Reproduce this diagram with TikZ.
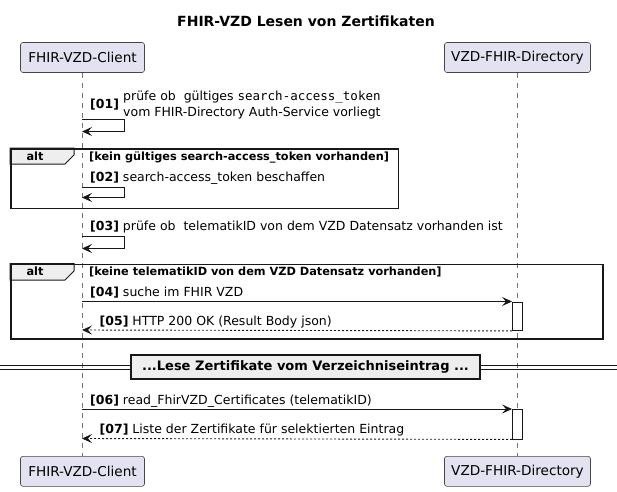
\documentclass[tikz,border=0pt]{standalone}
\usepackage{fontspec}
\setmainfont{DejaVu Sans}
\newfontfamily\monofont{DejaVu Sans Mono}
\usetikzlibrary{arrows.meta}
\definecolor{partfill}{HTML}{E2E2F0}
\definecolor{ink}{HTML}{181818}
\definecolor{tabfill}{HTML}{EEEEEE}
\newcommand{\fsz}[1]{\fontsize{#1}{#1}\selectfont}
\tikzset{
  part/.style={draw=ink!80, fill=partfill, line width=0.6pt, rounded corners=2.5pt, minimum height=30pt, inner sep=0pt, font=\fsz{13.6}},
  life/.style={draw=ink!60, line width=0.6pt, dash pattern=on 5pt off 5pt},
  lbl/.style={anchor=base west, inner sep=0pt, font=\fsz{12.5}},
  msgline/.style={draw=ink, line width=0.9pt, -{Stealth[length=10pt,width=9pt,inset=4pt]}},
  retline/.style={msgline, dash pattern=on 2pt off 2pt},
  altframe/.style={draw=ink, line width=1.5pt, inner sep=0pt, anchor=north west},
  alttab/.style={draw=ink, fill=tabfill, line width=1pt},
  condtxt/.style={anchor=base west, inner sep=0pt, font=\bfseries\fsz{11.3}},
  alttxt/.style={inner sep=0pt, font=\bfseries\fsz{11.3}},
  actbox/.style={draw=ink, fill=white, line width=0.9pt, minimum width=10pt, inner sep=0pt, anchor=north},
  divline/.style={draw=ink, line width=0.9pt},
  divbox/.style={draw=ink, fill=tabfill, line width=1.5pt, inner sep=0pt, font=\bfseries\fsz{13}}
}
\begin{document}
\begin{tikzpicture}[x=1pt,y=-1pt]
\useasboundingbox (0,0) rectangle (617,491);

% title
\node[font=\bfseries\fsz{14}, inner sep=0pt] (title) at (306,21) {FHIR-VZD Lesen von Zertifikaten};

% participants
\node[part, minimum width=124pt] (ct) at (82.5,57.5) {FHIR-VZD-Client};
\node[part, minimum width=146pt] (dt) at (517.5,57.5) {VZD-FHIR-Directory};
\node[part, minimum width=124pt] (cb) at (82.5,471.3) {FHIR-VZD-Client};
\node[part, minimum width=146pt] (db) at (517.5,471.3) {VZD-FHIR-Directory};

% lifelines
\draw[life] (ct.south) -- (cb.north);
\draw[life] (dt.south) -- (db.north);

% [01]
\node[lbl] (n01) at (90,108.5) {\textbf{[01]}};
\node[lbl] (m01a) at (123,100.5) {prüfe ob\ \ gültiges {\monofont search-access\_token}};
\node[lbl] (m01b) at (123,116) {vom FHIR-Directory Auth-Service vorliegt};
\coordinate (s1a) at (82,119.5);
\coordinate (s1b) at (82,131.5);
\draw[msgline] (s1a) -- ++(42,0) |- (s1b);

% alt 1
\draw[alttab] (10,148) -- (74,148) -- (74,155) -- (65,164) -- (10,164) -- cycle;
\node[altframe, minimum width=387.7pt, minimum height=59.5pt] (alt1) at (10,148) {};
\node[alttxt] (alt1lbl) at (35,156) {alt};
\node[condtxt] (cond1) at (89,160.7) {[kein gültiges search-access\_token vorhanden]};

% [02]
\node[lbl] (m02) at (90,181) {\textbf{[02]} search-access\_token beschaffen};
\coordinate (s2a) at (82,187);
\coordinate (s2b) at (82,197.5);
\draw[msgline] (s2a) -- ++(42,0) |- (s2b);

% [03]
\node[lbl] (m03) at (90,230) {\textbf{[03]} prüfe ob\ \ telematikID von dem VZD Datensatz vorhanden ist};
\coordinate (s3a) at (82,236);
\coordinate (s3b) at (82,248.5);
\draw[msgline] (s3a) -- ++(42,0) |- (s3b);

% alt 2
\draw[alttab] (10,263.5) -- (74,263.5) -- (74,271) -- (65,280) -- (10,280) -- cycle;
\node[altframe, minimum width=592pt, minimum height=74.5pt] (alt2) at (10,263.5) {};
\node[alttxt] (alt2lbl) at (35,271.5) {alt};
\node[condtxt] (cond2) at (89,275.5) {[keine telematikID von dem VZD Datensatz vorhanden]};

% [04] / [05]
\node[actbox, minimum height=28.5pt] (act1) at (517.5,301.5) {};
\node[lbl] (m04) at (90,296) {\textbf{[04]} suche im FHIR VZD};
\coordinate (c04) at (82,301.5);
\draw[msgline] (c04) -- (act1.north west);
\node[lbl] (m05) at (99.5,325) {\textbf{[05]} HTTP 200 OK (Result Body json)};
\coordinate (c05) at (82,330);
\draw[retline] (act1.south west) -- (c05);

% divider
\coordinate (dl1) at (0,365.8);
\coordinate (dr1) at (617,365.8);
\coordinate (dl2) at (0,369.3);
\coordinate (dr2) at (617,369.3);
\draw[divline] (dl1) -- (dr1);
\draw[divline] (dl2) -- (dr2);
\node[divbox, minimum width=349pt, minimum height=24pt] (div) at (305.5,367) {...Lese Zertifikate vom Verzeichniseintrag ...};

% [06] / [07]
\node[actbox, minimum height=29.5pt] (act2) at (517.5,409) {};
\node[lbl] (m06) at (90,404.5) {\textbf{[06]} read\_FhirVZD\_Certificates (telematikID)};
\coordinate (c06) at (82,409);
\draw[msgline] (c06) -- (act2.north west);
\node[lbl] (m07) at (99.5,433.5) {\textbf{[07]} Liste der Zertifikate für selektierten Eintrag};
\coordinate (c07) at (82,438.5);
\draw[retline] (act2.south west) -- (c07);

\end{tikzpicture}
\end{document}
